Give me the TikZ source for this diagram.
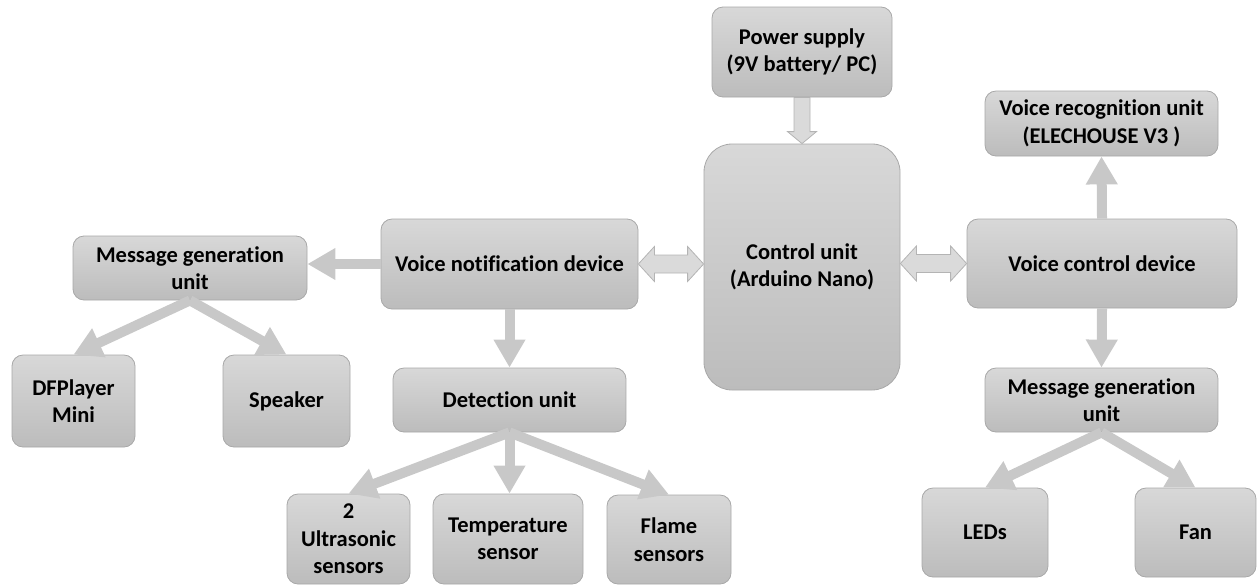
\documentclass[tikz,border=0pt]{standalone}
\usepackage{fontspec}
\setmainfont{Carlito}[Ligatures=NoCommon]
\usetikzlibrary{arrows.meta,calc}
\definecolor{boxtop}{RGB}{216,216,216}
\definecolor{boxbot}{RGB}{188,188,188}
\definecolor{boxline}{RGB}{168,168,168}
\definecolor{arrowgray}{RGB}{200,200,200}
\definecolor{blkfill}{RGB}{218,218,218}
\definecolor{blkline}{RGB}{180,180,180}
\tikzset{
  box/.style={draw=boxline, line width=0.8pt, top color=boxtop, bottom color=boxbot,
    rounded corners=11pt, align=center, inner sep=0pt,
    font=\fontsize{22.5}{27.5}\selectfont\bfseries},
  flow/.style={draw=arrowgray, line width=10pt, -{Triangle[width=30pt,length=28pt]}},
  blk/.style={fill=blkfill, draw=blkline, line width=0.8pt}
}
\begin{document}
\begin{tikzpicture}[x=1pt,y=-1pt]
\useasboundingbox (0,0) rectangle (1257,584);
% nodes
\node[box, minimum width=180pt, minimum height=90pt] (power) at (802,52) {Power supply\\(9V battery/ PC)};
\node[box, minimum width=196pt, minimum height=246pt, rounded corners=28pt] (ctrl) at (802,267) {Control unit\\(Arduino Nano)};
\node[box, minimum width=233pt, minimum height=65pt] (vrec) at (1101.5,123.5) {Voice recognition unit\\(ELECHOUSE V3 )};
\node[box, minimum width=270pt, minimum height=89pt] (vctrl) at (1102,263.5) {Voice control device};
\node[box, minimum width=233pt, minimum height=64pt] (msgR) at (1101.5,400) {Message generation\\unit};
\node[box, minimum width=126pt, minimum height=89pt] (led) at (985,532.5) {LEDs};
\node[box, minimum width=121pt, minimum height=89pt] (fan) at (1195.5,532.5) {Fan};
\node[box, minimum width=257pt, minimum height=90pt] (vnot) at (509.5,264) {Voice notification device};
\node[box, minimum width=234pt, minimum height=64pt] (msgL) at (190,268) {Message generation\\unit};
\node[box, minimum width=123pt, minimum height=92pt] (dfp) at (73.5,401) {DFPlayer\\Mini};
\node[box, minimum width=127pt, minimum height=92pt] (spk) at (286.5,401) {Speaker};
\node[box, minimum width=233pt, minimum height=64pt] (det) at (509.5,400) {Detection unit};
\node[box, minimum width=123pt, minimum height=90pt] (ultra) at (348.5,539) {2\\Ultrasonic\\sensors};
\node[box, minimum width=150pt, minimum height=90pt] (temp) at (508,539) {Temperature\\sensor};
\node[box, minimum width=124pt, minimum height=89pt] (flame) at (669,539.5) {Flame\\sensors};
% flow arrows
\draw[flow] (vnot.west) -- (msgL.east |- vnot.west);
\draw[flow] (msgL.south) -- (dfp.north);
\draw[flow] (msgL.south) -- (spk.north);
\draw[flow] (vnot.south) -- (det.north);
\draw[flow] (det.south) -- (ultra.north);
\draw[flow] (det.south) -- (temp.north -| det.south);
\draw[flow] (det.south) -- (flame.north);
\draw[flow] (vctrl.north) -- (vrec.south);
\draw[flow] (vctrl.south) -- (msgR.north);
\draw[flow] (msgR.south) -- (led.north);
\draw[flow] (msgR.south) -- (fan.north);
% block arrow power -> control
\path[blk] let \p1=(power.south), \p2=(ctrl.north) in
  (\x1-8pt,\y1) -- (\x1+8pt,\y1) -- (\x1+8pt,\y2+12pt) -- (\x1+14.5pt,\y2+12pt) -- (\x2,\y2)
  -- (\x1-14.5pt,\y2+12pt) -- (\x1-8pt,\y2+12pt) -- cycle;
% double block arrows
\path[blk] let \p1=(vnot.east), \p2=(ctrl.west) in
  (\x1,\y1) -- (\x1+16pt,\y1+17.5pt) -- (\x1+16pt,\y1+9pt) -- (\x2-16pt,\y1+9pt) -- (\x2-16pt,\y1+17.5pt)
  -- (\x2,\y1) -- (\x2-16pt,\y1-17.5pt) -- (\x2-16pt,\y1-9pt) -- (\x1+16pt,\y1-9pt) -- (\x1+16pt,\y1-17.5pt) -- cycle;
\path[blk] let \p1=(ctrl.east), \p2=(vctrl.west) in
  (\x1,\y2) -- (\x1+16pt,\y2+17.5pt) -- (\x1+16pt,\y2+9pt) -- (\x2-16pt,\y2+9pt) -- (\x2-16pt,\y2+17.5pt)
  -- (\x2,\y2) -- (\x2-16pt,\y2-17.5pt) -- (\x2-16pt,\y2-9pt) -- (\x1+16pt,\y2-9pt) -- (\x1+16pt,\y2-17.5pt) -- cycle;
\end{tikzpicture}
\end{document}
